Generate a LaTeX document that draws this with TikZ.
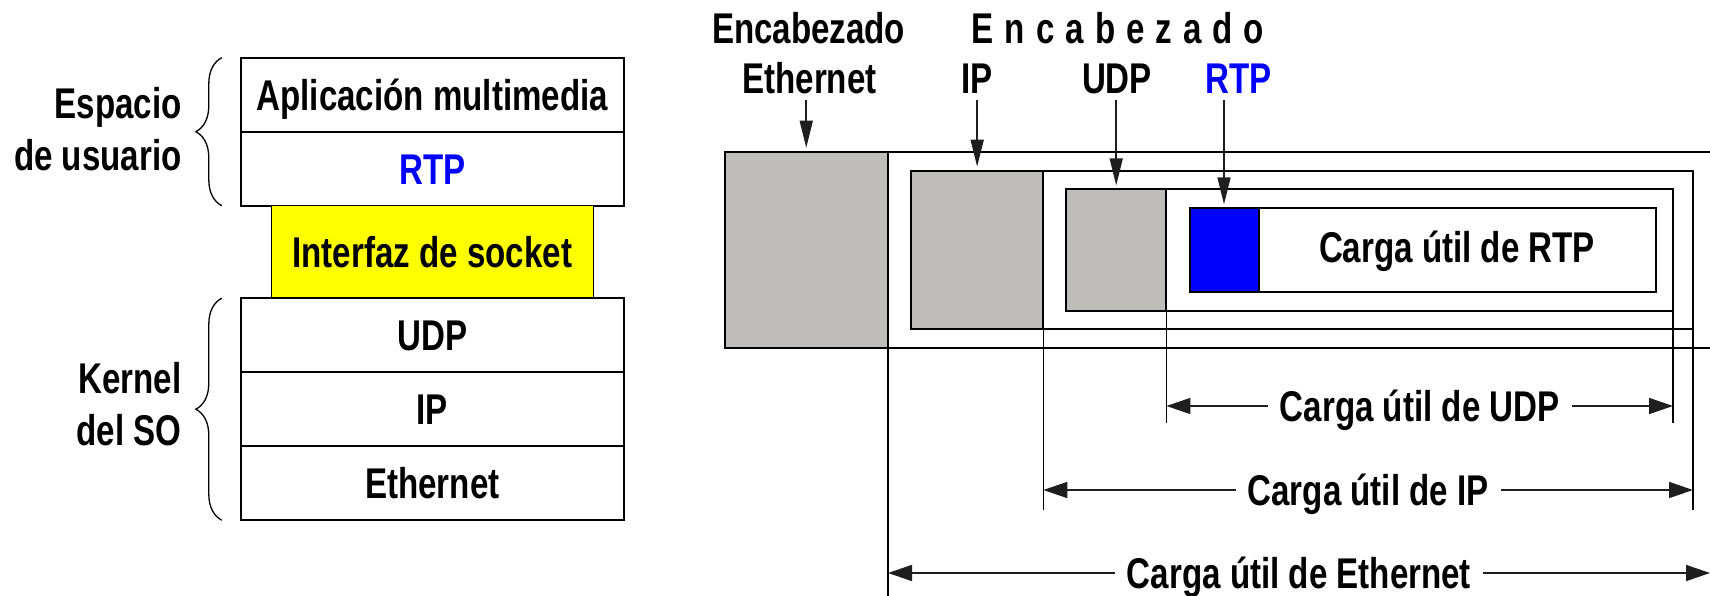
\documentclass[tikz,border=0pt]{standalone}
\usepackage{fontspec}
\setmainfont[FakeStretch=0.77]{Liberation Sans}
\usepackage{tikz}
\usetikzlibrary{arrows.meta, positioning, decorations.pathreplacing}
\definecolor{rtpblue}{RGB}{0,0,255}
\definecolor{socketyellow}{RGB}{255,255,0}
\definecolor{hdrgray}{RGB}{190,189,186}
\definecolor{arrowdark}{RGB}{30,30,30}
\newcommand{\stackfont}{\fontsize{43}{52}\selectfont\bfseries}

\begin{document}
\begin{tikzpicture}[
  x=1pt, y=-1pt,
  every node/.style={font=\stackfont, inner sep=0pt, outer sep=0pt},
  layer/.style={draw, line width=2pt, minimum width=383pt, minimum height=74pt,
                text height=31pt, text depth=0pt},
  sockbox/.style={draw, fill=socketyellow, line width=1pt, minimum width=322pt,
                  minimum height=92.5pt, text height=31pt, text depth=0pt},
  curly/.style={decorate, decoration={brace, amplitude=26pt}, line width=1.3pt},
  grouplbl/.style={align=right, anchor=east},
  toplbl/.style={text height=31pt, text depth=0pt},
  hdr/.style={draw, fill=hdrgray, line width=2pt, anchor=north west},
  frame/.style={draw, line width=2pt, anchor=north west},
  hdrarr/.style={-{Triangle[length=27pt, width=13pt]}, arrowdark, line width=1.6pt,
                 shorten <=6pt, shorten >=4pt},
  ext/.style={line width=1.4pt},
  dim/.style={{Triangle[length=24pt, width=16pt]}-{Triangle[length=24pt, width=16pt]},
              arrowdark, line width=1.6pt},
  dimlbl/.style={fill=white, text=black, inner xsep=12pt, inner ysep=3pt,
                 text height=31pt, text depth=0pt},
]
  \useasboundingbox (0,0) rectangle (1710,596);

  % Protocol stack
  \node[layer] (app) at (432.3,94.7) {Aplicación multimedia};
  \node[layer, below=0pt of app, text=rtpblue] (rtp) {RTP};
  \node[sockbox, below=0pt of rtp] (sock) {Interfaz de socket};
  \node[layer, below=0pt of sock] (udp) {UDP};
  \node[layer, below=0pt of udp] (ip) {IP};
  \node[layer, below=0pt of ip] (eth) {Ethernet};

  \draw[curly] ([xshift=-19pt]rtp.south west) -- ([xshift=-19pt]app.north west);
  \draw[curly] ([xshift=-19pt]eth.south west) -- ([xshift=-19pt]udp.north west);
  \node[grouplbl] (usr) at (181.6,129.2) {Espacio\\de usuario};
  \node[grouplbl] (kern) at (181.6,404) {Kernel\\del SO};

  % Nested frames
  \node[frame, minimum width=782pt, minimum height=158.6pt] (ipfr) at (911,170.7) {};
  \node[frame, minimum width=607pt, minimum height=121.4pt] (udpfr) at (1066,189.3) {};
  \node[frame, minimum width=466pt, minimum height=83.7pt] (rtpfr) at (1189.5,208.3) {};

  \node[hdr, minimum width=163.5pt, minimum height=196.6pt] (ethhdr) at (724.5,151.7) {};
  \node[hdr, minimum width=132.3pt, minimum height=158.6pt] (iphdr) at (911,170.7) {};
  \node[hdr, minimum width=100.4pt, minimum height=121.4pt] (udphdr) at (1066,189.3) {};
  \node[hdr, fill=rtpblue, minimum width=69pt, minimum height=83.7pt] (rtphdr) at (1189.5,208.3) {};
  \draw[line width=2pt] (ethhdr.north east) -- (1710,151.7)
                        (ethhdr.south east) -- (1710,348.3);

  \node[toplbl] (rtppl) at (1457,247) {Carga útil de RTP};

  % Header labels
  \node[toplbl] (encab) at (808.6,28.3) {Encabezado};
  \node[toplbl] (ethlbl) at (809.5,78.3) {Ethernet};
  \node[toplbl] (encabs) at (1118,28.3) {\spaceskip=11pt E n c a b e z a d o};
  \node[toplbl] (iplbl) at (977,78.3) {IP};
  \node[toplbl] (udplbl) at (1117,78.3) {UDP};
  \node[toplbl, text=rtpblue] (rtplbl) at (1238.5,78.3) {RTP};

  \foreach \l/\h in {ethlbl/ethhdr, iplbl/iphdr, udplbl/udphdr, rtplbl/rtphdr} {
    \draw[hdrarr] (\l.south -| \h.north) -- (\h.north);
  }

  % Payload extents
  \draw[ext] (ethhdr.south east) -- ++(0,247.7);
  \draw[ext] (iphdr.south east) -- ++(0,180.7);
  \draw[ext] (udphdr.south east) -- ++(0,112.6);
  \draw[ext] (udpfr.south east) -- ++(0,112.6);
  \draw[ext] (ipfr.south east) -- ++(0,180.7);

  \coordinate (udprow) at (0,406);
  \coordinate (iprow) at (0,490);
  \coordinate (ethrow) at (0,573);
  \coordinate (pageend) at (1710,573);

  \draw[dim] (udphdr.east |- udprow) -- (udpfr.east |- udprow)
    node[midway, dimlbl] (udppl) {Carga útil de UDP};
  \draw[dim] (iphdr.east |- iprow) -- (ipfr.east |- iprow)
    node[midway, dimlbl] (ippl) {Carga útil de IP};
  \draw[dim] (ethhdr.east |- ethrow) -- (pageend)
    node[midway, dimlbl] (ethpl) {Carga útil de Ethernet};
\end{tikzpicture}
\end{document}
